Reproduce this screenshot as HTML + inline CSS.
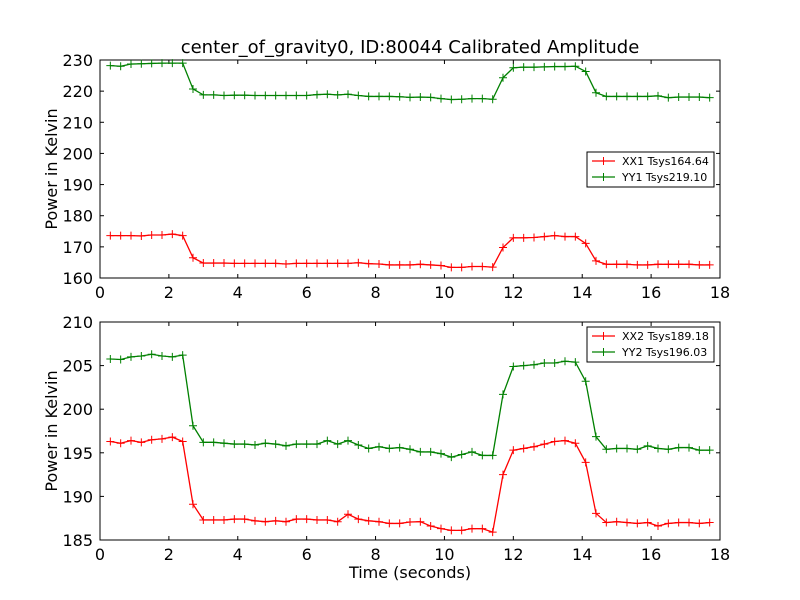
<!DOCTYPE html>
<html><head><meta charset="utf-8"><style>body{margin:0;background:#fff}svg{display:block;font-family:"DejaVu Sans","Liberation Sans",sans-serif}</style></head>
<body>
<svg id="c" width="800" height="600" xmlns="http://www.w3.org/2000/svg">
<rect width="800" height="600" fill="#fff"/>
<text x="410" y="53" text-anchor="middle" font-size="18">center_of_gravity0, ID:80044 Calibrated Amplitude</text>
<g id="g"></g>
</svg>
<script>
const xx1 = [173.6,173.6,173.6,173.5,173.8,173.8,174.1,173.6,166.5,164.8,164.8,164.8,164.7,164.7,164.7,164.7,164.7,164.5,164.7,164.7,164.7,164.7,164.7,164.7,164.9,164.6,164.5,164.2,164.2,
164.2,164.4,164.2,164.0,163.4,163.4,163.7,163.7,163.5,169.8,172.9,172.9,173.0,173.3,173.6,173.3,173.3,171.1,165.5,164.4,164.4,164.4,164.2,164.2,164.4,164.4,164.4,164.4,164.2,164.2];
const yy1 = [228.2,228.0,228.7,228.8,228.9,229.0,229.0,229.0,220.7,218.8,218.8,218.6,218.7,218.7,218.6,218.6,218.6,218.6,218.6,218.6,218.9,219.0,218.8,219.0,218.6,218.3,218.3,218.3,218.2,
218.0,218.1,218.0,217.6,217.3,217.4,217.6,217.6,217.4,224.3,227.5,227.7,227.7,227.8,227.9,227.9,228.0,226.3,219.5,218.3,218.3,218.3,218.3,218.3,218.5,217.9,218.1,218.1,218.1,217.9];
const xx2 = [196.3,196.1,196.4,196.2,196.5,196.6,196.8,196.3,189.1,187.3,187.3,187.3,187.4,187.4,187.2,187.1,187.2,187.1,187.4,187.4,187.3,187.3,187.1,187.95,187.4,187.2,187.1,186.9,186.9,
187.06,187.1,186.6,186.3,186.1,186.1,186.3,186.3,185.9,192.5,195.3,195.5,195.7,196.0,196.3,196.4,196.1,193.9,188.06,187.0,187.1,187.0,186.9,187.0,186.6,186.9,187.0,187.0,186.9,187.0];
const yy2 = [205.76,205.7,206.0,206.1,206.3,206.1,206.0,206.2,198.1,196.2,196.2,196.1,196.0,196.0,195.9,196.1,196.0,195.8,196.0,196.0,196.0,196.4,196.0,196.4,195.9,195.5,195.7,195.5,195.6,
195.4,195.1,195.1,194.9,194.5,194.8,195.1,194.7,194.7,201.7,204.9,205.0,205.1,205.3,205.3,205.5,205.4,203.2,196.85,195.4,195.5,195.5,195.4,195.8,195.5,195.4,195.6,195.6,195.3,195.3];
const xTicks = [0,2,4,6,8,10,12,14,16,18];
const yTicksTop = [160,170,180,190,200,210,220,230];
const yTicksBot = [185,190,195,200,205,210];
const labelsTop = ["XX1 Tsys164.64","YY1 Tsys219.10"];
const labelsBot = ["XX2 Tsys189.18","YY2 Tsys196.03"];
const t0 = 0.3, dt = 0.3;

const NS="http://www.w3.org/2000/svg", G=document.getElementById('g');
function mk(tag,at,parent){const e=document.createElementNS(NS,tag);for(const k in at)e.setAttribute(k,at[k]);(parent||G).appendChild(e);return e;}

function panel(top,bot,ymin,ymax,yTicks,series,labels,leg,name){
  const L=100,R=720;
  const X=v=>L+(v-0)/(18-0)*(R-L);
  const Y=v=>bot-(v-ymin)/(ymax-ymin)*(bot-top);
  const g=mk('g',{});
  
  
  const fr=mk('rect',{x:L,y:top,width:R-L,height:bot-top,fill:'none',stroke:'#000','stroke-width':1},g);
  
  
  xTicks.forEach(v=>{
    const x=X(v);
    mk('line',{x1:x,y1:bot,x2:x,y2:bot-4,stroke:'#000'},g);
    mk('line',{x1:x,y1:top,x2:x,y2:top+4,stroke:'#000'},g);
    const t=mk('text',{x:x,y:bot+20,'text-anchor':'middle','font-size':16},g);
    t.textContent=v;
    
    
  });
  yTicks.forEach(v=>{
    const y=Y(v);
    mk('line',{x1:L,y1:y,x2:L+4,y2:y,stroke:'#000'},g);
    mk('line',{x1:R,y1:y,x2:R-4,y2:y,stroke:'#000'},g);
    const t=mk('text',{x:L-7,y:y+6,'text-anchor':'end','font-size':16},g);
    t.textContent=v;
    
    
  });
  const yl=mk('text',{x:0,y:0,'text-anchor':'middle','font-size':16,transform:`translate(57,${(top+bot)/2}) rotate(-90)`},g);
  yl.textContent='Power in Kelvin';
  
  
  const cols=['#ff0000','#008000'];
  series.forEach((s,si)=>{
    const pts=s.map((v,i)=>[X(t0+dt*i),Y(v)]);
    const pl=mk('polyline',{points:pts.map(p=>p.join(',')).join(' '),fill:'none',stroke:cols[si],'stroke-width':1.3},g);
    
    
    pts.forEach(p=>{
      const m=mk('path',{d:`M${p[0]-4},${p[1]}H${p[0]+4}M${p[0]},${p[1]-4}V${p[1]+4}`,stroke:cols[si],'stroke-width':1},g);
      
      
    });
  });
  const lg=mk('g',{},g);
  
  
  mk('rect',{x:leg[0],y:leg[1],width:127,height:35,fill:'#fff',stroke:'#000','stroke-width':1},lg);
  labels.forEach((lb,i)=>{
    const y=leg[1]+9+i*16;
    mk('line',{x1:leg[0]+5,y1:y,x2:leg[0]+28,y2:y,stroke:cols[i],'stroke-width':1.3},lg);
    mk('path',{d:`M${leg[0]+12.5},${y}h8M${leg[0]+16.5},${y-4}v8`,stroke:cols[i]},lg);
    const t=mk('text',{x:leg[0]+35,y:y+4,'font-size':11},lg);
    t.textContent=lb;
    
    
  });
}
panel(60,278,160,230,yTicksTop,[xx1,yy1],labelsTop,[587,152],'top-panel');
panel(322,540,185,210,yTicksBot,[xx2,yy2],labelsBot,[587,327],'bottom-panel');
const xt=mk('text',{x:410,y:578,'text-anchor':'middle','font-size':16});
xt.textContent='Time (seconds)';


</script>
</body></html>
